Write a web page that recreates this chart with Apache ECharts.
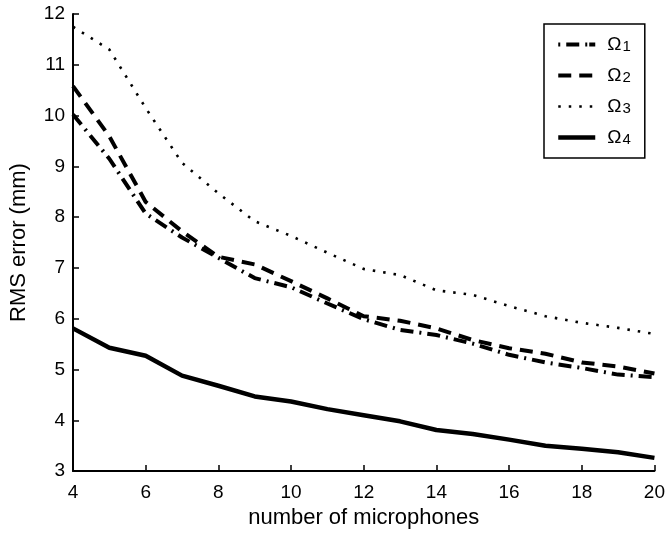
<!DOCTYPE html>
<html>
<head>
<meta charset="utf-8">
<script src="https://cdn.jsdelivr.net/npm/echarts@6/dist/echarts.min.js"></script>
<style>
html,body{margin:0;padding:0;background:#fff;}
#c{width:668px;height:534px;}
</style>
</head>
<body>
<div id="c"></div>
<script>
var micCounts = [4,5,6,7,8,9,10,11,12,13,14,15,16,17,18,19,20];
var omega1 = [10.02,9.15,8.07,7.6,7.2,6.8,6.62,6.3,5.99,5.78,5.68,5.51,5.29,5.14,5.03,4.9,4.85];
var omega2 = [10.58,9.59,8.3,7.72,7.22,7.07,6.74,6.4,6.05,5.96,5.81,5.58,5.42,5.31,5.14,5.06,4.92];
var omega3 = [11.75,11.3,10.15,9.07,8.47,7.92,7.63,7.3,6.98,6.86,6.56,6.47,6.25,6.05,5.92,5.82,5.7];
var omega4 = [5.81,5.43,5.27,4.88,4.68,4.47,4.37,4.22,4.1,3.98,3.81,3.73,3.62,3.5,3.44,3.37,3.26];
var seriesNames = ['Ω1','Ω2','Ω3','Ω4'];

function pairs(arr){ return micCounts.map(function(x,i){ return [x, arr[i]]; }); }

var font = '"Liberation Sans", Arial, Helvetica, sans-serif';
var chart = echarts.init(document.getElementById('c'), null, {renderer:'canvas'});
var styles = [
  {type:[13,6,2,6], width:4, legendType:[2,6,13,6,2]},
  {type:[13,8], width:4, legendType:[13,8]},
  {type:[2.5,8], width:2.6, legendType:[2.5,8]},
  {type:'solid', width:4.5, legendType:'solid'}
];
var data = [omega1, omega2, omega3, omega4];
chart.setOption({
  animation:false,
  backgroundColor:'#fff',
  grid:{left:71, right:13, top:14, bottom:61, containLabel:false},
  xAxis:{
    type:'value', min:4, max:20, interval:2,
    name:'number of microphones', nameLocation:'middle', nameGap:34,
    nameTextStyle:{color:'#000', fontSize:22, fontFamily:font},
    axisLine:{show:true, onZero:false, lineStyle:{color:'#000', width:2}},
    axisTick:{show:true, inside:true, length:6, lineStyle:{color:'#000', width:1.5}},
    axisLabel:{color:'#000', fontSize:19, fontFamily:font, margin:12},
    splitLine:{show:false}
  },
  yAxis:{
    type:'value', min:3, max:12, interval:1,
    name:'RMS error (mm)', nameLocation:'middle', nameGap:43,
    nameTextStyle:{color:'#000', fontSize:22, fontFamily:font},
    axisLine:{show:true, onZero:false, lineStyle:{color:'#000', width:2}},
    axisTick:{show:true, inside:true, length:6, lineStyle:{color:'#000', width:1.5}},
    axisLabel:{color:'#000', fontSize:19, fontFamily:font, margin:8},
    splitLine:{show:false}
  },
  legend:{
    orient:'vertical', left:544, top:24,
    padding:[6,14,11,12],
    borderColor:'#000', borderWidth:1.5, backgroundColor:'#fff',
    itemWidth:37, itemHeight:14, itemGap:7,
    itemStyle:{opacity:0},
    data:seriesNames.map(function(n,i){
      return {name:n, itemStyle:{opacity:0, borderWidth:0},
        lineStyle:{color:'#000', width:styles[i].width, type:styles[i].legendType, cap:'butt', opacity:1}};
    }),
    formatter:function(n){ return '{o|Ω}{s|' + n.slice(1) + '}'; },
    textStyle:{
      color:'#000', fontFamily:font, padding:[0,0,0,7],
      rich:{
        o:{fontSize:19, fontFamily:font, color:'#000', verticalAlign:'top', lineHeight:19},
        s:{fontSize:15, fontFamily:font, color:'#000', verticalAlign:'bottom', lineHeight:15, padding:[9,0,0,1]}
      }
    }
  },
  series: seriesNames.map(function(n, i){
    return {
      name:n, type:'line', data:pairs(data[i]), symbol:'none', smooth:false,
      lineStyle:{color:'#000', width:styles[i].width, type:styles[i].type, cap:'butt', join:'round'},
      itemStyle:{color:'#000'}
    };
  })
});
</script>
</body>
</html>
